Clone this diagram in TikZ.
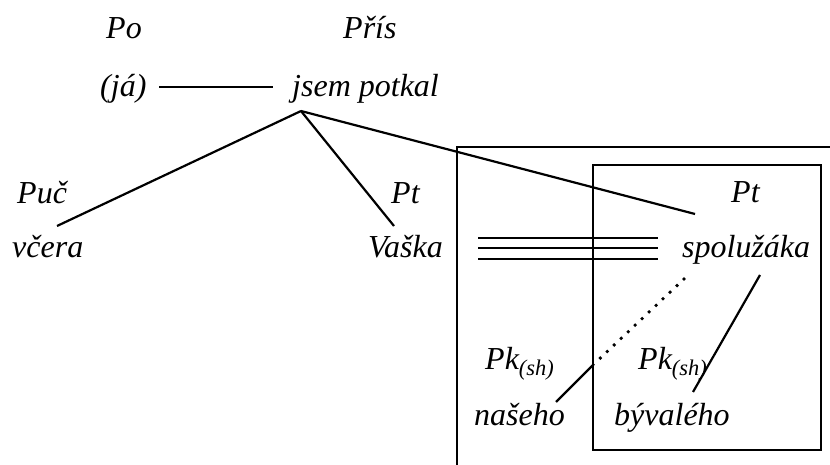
\documentclass[tikz,border=0pt]{standalone}
\usepackage{fontspec}
\setmainfont{Liberation Serif}
\begin{document}
\begin{tikzpicture}[x=1pt,y=-1pt,
  lbl/.style={anchor=base west,inner sep=0pt,font=\fontsize{32}{37}\selectfont\itshape},
  ln/.style={line width=2.2pt},
  dotln/.style={line width=3.8pt,line cap=round,dash pattern=on 0pt off 9.6pt}]
\useasboundingbox (0,0) rectangle (830,465);
% texts
\node[lbl] (po) at (106,39) {Po};
\node[lbl] (pris) at (343,39) {Přís};
\node[lbl] (ja) at (100,97) {(já)};
\node[lbl] (jp) at (292,97) {jsem potkal};
\node[lbl] (puc) at (17,204) {Puč};
\node[lbl] (pt1) at (391,204) {Pt};
\node[lbl] (vcera) at (12,258) {včera};
\node[lbl] (vaska) at (368,258) {Vaška};
\node[lbl] (pt2) at (731,203) {Pt};
\node[lbl] (spol) at (682,258) {spolužáka};
\node[lbl] (pk1) at (485,369) {Pk\textsubscript{(sh)}};
\node[lbl] (pk2) at (638,369) {Pk\textsubscript{(sh)}};
\node[lbl] (nas) at (474,425) {našeho};
\node[lbl] (byv) at (614,425) {bývalého};
% frames
\draw[ln] (457,465) -- (457,147) -- (830,147);
\draw[ln] (593,165) rectangle (821,450);
% connector points
\coordinate (ja-e) at (159,87);
\coordinate (jp-w) at (273,87);
\coordinate (jp-b) at (301,111);
\coordinate (vc-t) at (57,226);
\coordinate (va-t) at (394,226);
\coordinate (sp-t) at (695,214);
\coordinate (sp-d) at (684,279);
\coordinate (na-j) at (594,364);
\coordinate (na-t) at (556,402);
\coordinate (sp-r) at (760,275);
\coordinate (by-t) at (693,392);
\draw[ln] (ja-e) -- (jp-w);
\draw[ln] (jp-b) -- (vc-t);
\draw[ln] (jp-b) -- (va-t);
\draw[ln] (jp-b) -- (sp-t);
\draw[dotln] (sp-d) -- (na-j);
\draw[ln] (na-j) -- (na-t);
\draw[ln] (sp-r) -- (by-t);
% triple line
\foreach \yy/\nm in {238/a,248/b,259/c}{
  \coordinate (tl-\nm-w) at (478,\yy);
  \coordinate (tl-\nm-e) at (658,\yy);
  \draw[ln] (tl-\nm-w) -- (tl-\nm-e);
}
\end{tikzpicture}
\end{document}
